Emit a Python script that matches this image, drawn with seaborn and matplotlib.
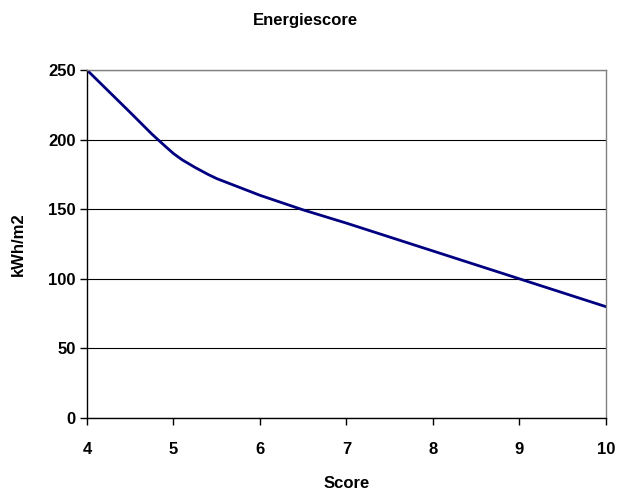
import pandas as pd
import seaborn as sns
import matplotlib
matplotlib.use('Agg')
import matplotlib.pyplot as plt

# values
score = [4, 4.5, 4.75, 4.9, 5, 5.1, 5.25, 5.4, 5.5, 5.75, 6, 6.5, 7, 8, 9, 10]
kwh = [250, 219.5, 204, 195.5, 190, 185.5, 180, 175, 172, 166, 160, 149.5, 140, 120, 100, 80]

df = pd.DataFrame({'Score': score, 'kWh/m2': kwh})

sns.set_theme(style='white')
plt.rcParams['font.family'] = ['Liberation Sans', 'DejaVu Sans']
plt.rcParams['text.color'] = 'black'
plt.rcParams['xtick.color'] = 'black'
plt.rcParams['ytick.color'] = 'black'
plt.rcParams['axes.labelcolor'] = 'black'

fig = plt.figure(figsize=(6.19, 4.93), dpi=100)
ax = fig.add_axes([0.1405, 0.152, 0.8385, 0.706])

sns.lineplot(data=df, x='Score', y='kWh/m2', color='#000080', linewidth=2.0, ax=ax)

ax.set_xlim(4, 10)
ax.set_ylim(0, 250)
ax.set_xticks(range(4, 11))
ax.set_yticks(range(0, 251, 50))
ax.yaxis.grid(True, color='black', linewidth=0.8)
ax.set_axisbelow(True)

for side in ['top', 'right']:
    ax.spines[side].set_color('#808080')
    ax.spines[side].set_linewidth(1.0)
for side in ['left', 'bottom']:
    ax.spines[side].set_color('black')
    ax.spines[side].set_linewidth(1.0)

ax.tick_params(axis='both', direction='out', length=5, width=1, color='black',
               labelsize=12, bottom=True, left=True)
for lbl in ax.get_xticklabels() + ax.get_yticklabels():
    lbl.set_fontweight('bold')
ax.tick_params(axis='x', pad=12)
ax.tick_params(axis='y', pad=3)

ax.set_xlabel('Score', fontsize=12, fontweight='bold', labelpad=14)
ax.set_ylabel('kWh/m2', fontsize=12, fontweight='bold', labelpad=16)
fig.text(0.493, 0.958, 'Energiescore', ha='center', va='center', fontsize=12, fontweight='bold')

fig.savefig('out.png', dpi=100)
